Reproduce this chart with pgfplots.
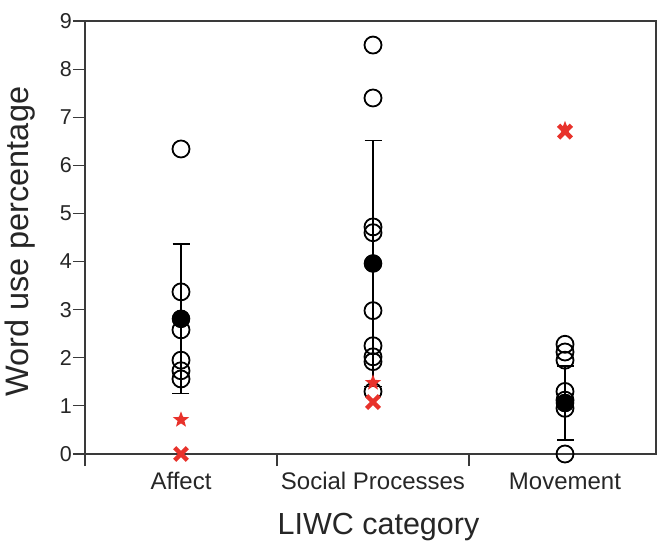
\documentclass[border=0pt]{standalone}
\usepackage{fontspec}
\setmainfont{Liberation Sans}
\usepackage{pgfplots}
\pgfplotsset{compat=1.18}
\definecolor{xred}{HTML}{E8322B}
\definecolor{axgray}{HTML}{3A3A3A}
\pgfdeclareplotmark{fstar}{%
  \pgfpathmoveto{\pgfpointpolar{90}{\pgfplotmarksize}}%
  \pgfpathlineto{\pgfpointpolar{126}{0.42\pgfplotmarksize}}%
  \pgfpathlineto{\pgfpointpolar{162}{\pgfplotmarksize}}%
  \pgfpathlineto{\pgfpointpolar{198}{0.42\pgfplotmarksize}}%
  \pgfpathlineto{\pgfpointpolar{234}{\pgfplotmarksize}}%
  \pgfpathlineto{\pgfpointpolar{270}{0.42\pgfplotmarksize}}%
  \pgfpathlineto{\pgfpointpolar{306}{\pgfplotmarksize}}%
  \pgfpathlineto{\pgfpointpolar{342}{0.42\pgfplotmarksize}}%
  \pgfpathlineto{\pgfpointpolar{18}{\pgfplotmarksize}}%
  \pgfpathlineto{\pgfpointpolar{54}{0.42\pgfplotmarksize}}%
  \pgfpathclose
  \pgfusepathqfill}
\begin{document}
\begin{tikzpicture}
\begin{axis}[
  width=571pt, height=433pt, scale only axis,
  xmin=0.5, xmax=3.474, ymin=0, ymax=9,
  clip=false,
  axis line style={axgray, line width=1.6pt},
  ytick={0,1,...,9}, ytick pos=left,
  xtick={0.5,1.5,2.5}, xticklabels={}, xtick pos=bottom,
  extra x ticks={1,2,3},
  extra x tick labels={Affect,Social Processes,Movement},
  extra x tick style={major tick length=0pt,
     xticklabel style={anchor=base, inner sep=0pt, yshift=-35pt,
       font=\fontsize{24}{28}\selectfont}},
  tick align=outside, major tick length=12pt,
  tick style={axgray, line width=1.2pt},
  /pgf/number format/assume math mode=true,
  tick label style={font=\fontsize{21.5}{25}\selectfont, text=black!85},
  yticklabel style={inner sep=0pt, xshift=-1pt},
  xlabel={LIWC category},
  ylabel={Word use percentage},
  label style={text=black!85, inner sep=0pt},
  xlabel style={at={(axis description cs:0.514,-0.187)}, anchor=base,
     font=\fontsize{30.5}{36}\selectfont},
  ylabel style={at={(axis description cs:-0.0876,0.49)}, anchor=south,
     font=\fontsize{32.5}{38}\selectfont},
]
% means with SD error bars
\addplot[black, line width=1.5pt, only marks, mark=*, mark size=8.5pt,
  error bars/.cd, y dir=both, y explicit,
  error bar style={line width=1.5pt, black},
  error mark options={rotate=90, mark size=8.5pt, line width=1.5pt, black}]
  coordinates {(1,2.81) +- (0,1.55) (2,3.96) +- (0,2.56) (3,1.06) +- (0,0.77)};
% individual values (open circles)
\addplot[black, only marks, mark=o, mark size=8.5pt, line width=1.8pt]
  coordinates {
  (1,6.34)(1,3.37)(1,2.58)(1,1.95)(1,1.73)(1,1.56)
  (2,8.50)(2,7.40)(2,4.72)(2,4.60)(2,2.98)(2,2.25)(2,2.02)(2,1.92)(2,1.30)
  (3,2.28)(3,2.12)(3,1.95)(3,1.30)(3,1.12)(3,0.95)(3,0)};
% means filled on top
\addplot[black, only marks, mark=*, mark size=8.5pt, line width=1pt]
  coordinates {(1,2.81)(2,3.96)(3,1.06)};
% red stars
\addplot[xred, only marks, mark=fstar, mark size=8.5pt]
  coordinates {(1,0.71)(2,1.48)(3,6.75)};
% red crosses
\addplot[xred, only marks, mark=x, mark size=9pt, line width=4.5pt]
  coordinates {(1,0)(2,1.08)(3,6.70)};
\end{axis}
\path ([shift={(-85pt,-90pt)}]current axis.south west) rectangle ([shift={(4pt,21pt)}]current axis.north east);
\end{tikzpicture}
\end{document}
